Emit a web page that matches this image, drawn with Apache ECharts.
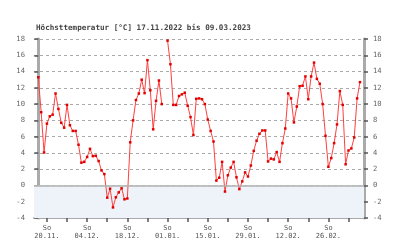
<!DOCTYPE html>
<html><head><meta charset="utf-8">
<script src="https://cdn.jsdelivr.net/npm/echarts@6/dist/echarts.min.js"></script>
<style>html,body{margin:0;padding:0;background:#fff}#c{width:400px;height:244px}</style>
</head><body><div id="c"></div>
<script>
const titleText = 'Höchsttemperatur [°C] 17.11.2022 bis 09.03.2023';
// daily max temperatures, 17.11.2022 .. 09.03.2023 (day index = position)
const temps = [13.3,9.0,4.05,7.6,8.5,8.7,11.3,9.4,7.7,7.1,
 9.9,7.4,6.7,6.7,5.0,2.8,2.9,3.5,4.5,3.6,
 3.65,3.0,1.85,1.4,-1.5,-0.4,-2.7,-1.45,-0.85,-0.35,
 -1.7,-1.6,5.3,8.0,10.5,11.3,13.0,11.35,15.4,11.7,
 6.9,10.4,12.9,10.0,null,17.8,14.9,9.9,9.9,11.0,
 11.2,11.4,9.8,8.4,6.2,10.65,10.7,10.6,10.0,8.1,
 6.7,5.4,0.6,0.95,2.9,-0.75,1.25,2.2,2.9,1.0,
 -0.45,0.5,1.6,1.1,2.45,4.25,5.5,6.35,6.76,6.76,
 2.95,3.3,3.2,4.1,2.9,5.2,7.0,11.3,10.7,7.75,
 9.7,12.2,12.25,13.4,10.6,13.4,15.1,13.1,12.5,10.0,
 6.1,2.3,3.36,5.2,7.5,11.6,9.9,2.6,4.3,4.55,
 5.9,10.7,12.7];
// Sundays (day index) and labelled Sundays
const tickDays = [3,10,17,24,31,38,45,52,59,66,73,80,87,94,101,108];
const labelDays = [3,17,31,45,59,73,87,101];
const labelTexts = ['20.11.','04.12.','18.12.','01.01.','15.01.','29.01.','12.02.','26.02.'];
const yTicks = [-4,-2,0,2,4,6,8,10,12,14,16,18];

const data = temps.map((v,i)=>[i,v]);
const font = 'DejaVu Sans Mono';
const chart = echarts.init(document.getElementById('c'));
const yAxisCommon = {
  type:'value', min:-4, max:18, interval:2,
  axisLine:{show:true, lineStyle:{color:'#aaaaaa', width:3}},
  axisTick:{show:true, length:4, lineStyle:{color:'#555', width:1.5}},
  axisLabel:{color:'#666', fontFamily:font, fontSize:7.2, margin:9},
};
chart.setOption({
  animation:false,
  backgroundColor:'#fff',
  title:{text:titleText, left:31, top:19, textStyle:{fontFamily:font, fontSize:7.6, fontWeight:'bold', color:'#444'}},
  grid:{left:34, right:36, top:39, bottom:26},
  xAxis:{type:'value', min:-1.5, max:113.4,
    axisLine:{show:true, onZero:false, lineStyle:{color:'#aaaaaa', width:2}},
    axisTick:{show:true, length:4, customValues:tickDays, lineStyle:{color:'#555', width:1.5}},
    axisLabel:{customValues:labelDays, color:'#555', fontFamily:font, fontSize:7, lineHeight:8, margin:6,
      formatter:(v)=>{const k=labelDays.indexOf(Math.round(v)); return k>=0?('So\n'+labelTexts[k]):'';}},
    splitLine:{show:false}},
  yAxis:[
    Object.assign({}, yAxisCommon, {position:'left', splitLine:{show:true, lineStyle:{color:'#aaa', type:[3,3], width:1}}}),
    Object.assign({}, yAxisCommon, {position:'right', splitLine:{show:false}})
  ],
  series:[{
    type:'line', data:data, yAxisIndex:0, connectNulls:false,
    symbol:'rect', symbolSize:2.5, showSymbol:true,
    lineStyle:{color:'#ff4040', width:1},
    itemStyle:{color:'#e00000'},
    markArea:{silent:true, itemStyle:{color:'#eef3fa'}, data:[[{yAxis:-4},{yAxis:0}]]},
    markLine:{silent:true, symbol:'none', label:{show:false}, lineStyle:{color:'#b0b0b0', type:'solid', width:1.5}, data:[{yAxis:0}]}
  }]
});
</script></body></html>
